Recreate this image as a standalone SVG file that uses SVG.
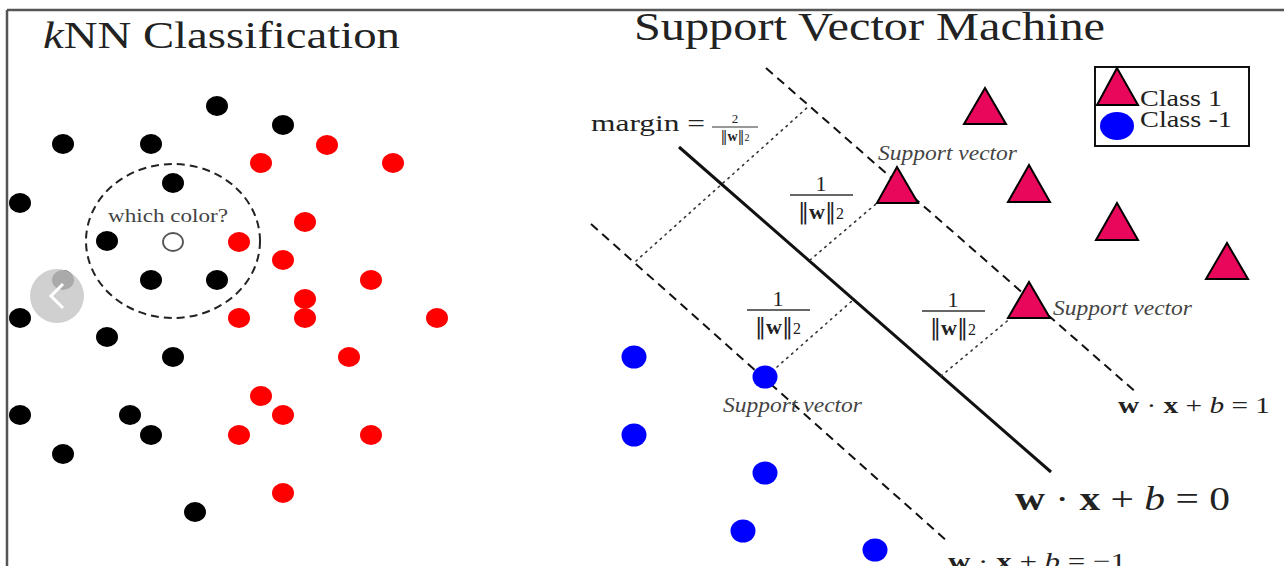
<svg xmlns="http://www.w3.org/2000/svg" width="1284" height="566" viewBox="0 0 1284 566">
<style>
 .t{font-family:"Liberation Serif","DejaVu Serif",serif;fill:#222}
 .bk{fill:#000}
 .rd{fill:#f00}
 .bl{fill:#00f}
 .tri{fill:#e8075a;stroke:#000;stroke-width:2}
 .dash{stroke:#111;stroke-width:2;stroke-dasharray:9 6;fill:none}
 .dot{stroke:#333;stroke-width:1.6;stroke-dasharray:1.5 5;stroke-linecap:round;fill:none}
 .sv{font-family:"Liberation Serif","DejaVu Serif",serif;font-style:italic;font-size:20px;fill:#444}
 .b{font-weight:bold}
 .i{font-style:italic}
 .nb{font-family:"DejaVu Serif",serif;font-weight:normal}
</style>
<rect width="1284" height="566" fill="#fff"/>
<g id="frame" stroke="#555" stroke-width="2.5" fill="none">
 <line x1="7" y1="10" x2="1284" y2="10"/>
 <line x1="7" y1="10" x2="7" y2="566"/>
</g>

<!-- kNN panel -->
<g id="knn-title"><text class="t" x="43" y="48" font-size="38" textLength="357" lengthAdjust="spacingAndGlyphs"><tspan class="i">k</tspan>NN Classification</text></g>
<g id="knn-black">
 <ellipse class="bk" cx="217" cy="106" rx="11" ry="10"/>
 <ellipse class="bk" cx="283" cy="125" rx="11" ry="10"/>
 <ellipse class="bk" cx="63" cy="144" rx="11" ry="10"/>
 <ellipse class="bk" cx="151" cy="144" rx="11" ry="10"/>
 <ellipse class="bk" cx="173" cy="183" rx="11" ry="10"/>
 <ellipse class="bk" cx="20" cy="203" rx="11" ry="10"/>
 <ellipse class="bk" cx="107" cy="241" rx="11" ry="10"/>
 <ellipse class="bk" cx="63" cy="280" rx="11" ry="10"/>
 <ellipse class="bk" cx="151" cy="280" rx="11" ry="10"/>
 <ellipse class="bk" cx="217" cy="280" rx="11" ry="10"/>
 <ellipse class="bk" cx="20" cy="318" rx="11" ry="10"/>
 <ellipse class="bk" cx="107" cy="337" rx="11" ry="10"/>
 <ellipse class="bk" cx="173" cy="357" rx="11" ry="10"/>
 <ellipse class="bk" cx="20" cy="415" rx="11" ry="10"/>
 <ellipse class="bk" cx="130" cy="415" rx="11" ry="10"/>
 <ellipse class="bk" cx="151" cy="435" rx="11" ry="10"/>
 <ellipse class="bk" cx="63" cy="454" rx="11" ry="10"/>
 <ellipse class="bk" cx="195" cy="512" rx="11" ry="10"/>
</g>
<g id="knn-red">
 <ellipse class="rd" cx="327" cy="145" rx="11" ry="10"/>
 <ellipse class="rd" cx="261" cy="163" rx="11" ry="10"/>
 <ellipse class="rd" cx="393" cy="163" rx="11" ry="10"/>
 <ellipse class="rd" cx="305" cy="222" rx="11" ry="10"/>
 <ellipse class="rd" cx="239" cy="242" rx="11" ry="10"/>
 <ellipse class="rd" cx="283" cy="260" rx="11" ry="10"/>
 <ellipse class="rd" cx="371" cy="280" rx="11" ry="10"/>
 <ellipse class="rd" cx="305" cy="299" rx="11" ry="10"/>
 <ellipse class="rd" cx="239" cy="318" rx="11" ry="10"/>
 <ellipse class="rd" cx="305" cy="318" rx="11" ry="10"/>
 <ellipse class="rd" cx="437" cy="318" rx="11" ry="10"/>
 <ellipse class="rd" cx="349" cy="357" rx="11" ry="10"/>
 <ellipse class="rd" cx="261" cy="396" rx="11" ry="10"/>
 <ellipse class="rd" cx="283" cy="415" rx="11" ry="10"/>
 <ellipse class="rd" cx="239" cy="435" rx="11" ry="10"/>
 <ellipse class="rd" cx="371" cy="435" rx="11" ry="10"/>
 <ellipse class="rd" cx="283" cy="493" rx="11" ry="10"/>
</g>
<g id="query">
 <ellipse cx="173" cy="241" rx="87" ry="77" fill="none" stroke="#222" stroke-width="2" stroke-dasharray="8 5"/>
 <ellipse cx="173" cy="242" rx="10" ry="9" fill="#fff" stroke="#555" stroke-width="1.8"/>
 <text class="t" x="108" y="222" font-size="19" textLength="120" lengthAdjust="spacingAndGlyphs" style="fill:#444">which color?</text>
</g>
<g id="nav-button">
 <circle cx="57" cy="296" r="27" fill="#c8c8c8" fill-opacity="0.85"/>
 <polyline points="63,284 51,296 63,308" fill="none" stroke="#fff" stroke-width="3"/>
</g>

<!-- SVM panel -->
<g id="svm-title"><text class="t" x="634" y="40" font-size="40" textLength="471" lengthAdjust="spacingAndGlyphs">Support Vector Machine</text></g>
<g id="connectors">
 <line x1="679" y1="147" x2="1051" y2="472" stroke="#111" stroke-width="3"/>
 <line class="dash" x1="766" y1="68" x2="1138" y2="394"/>
 <line class="dash" x1="591" y1="224" x2="948" y2="542"/>
 <line class="dot" x1="636" y1="261" x2="809" y2="106"/>
 <line class="dot" x1="810" y1="260" x2="890" y2="192"/>
 <line class="dot" x1="777" y1="367" x2="853" y2="300"/>
 <line class="dot" x1="941" y1="376" x2="1012" y2="317"/>
</g>
<g id="class1">
 <polygon class="tri" points="985,88 964,124 1006,124"/>
 <polygon class="tri" points="1029,165 1008,202 1050,202"/>
 <polygon class="tri" points="1117,203 1096,240 1138,240"/>
 <polygon class="tri" points="1227,243 1206,279 1248,279"/>
</g>
<g id="sv-tri-1">
 <polygon class="tri" points="897,167 877,203 918,203"/>
 <text class="sv" x="878" y="160" textLength="139" lengthAdjust="spacingAndGlyphs">Support vector</text>
</g>
<g id="sv-tri-2">
 <polygon class="tri" points="1029,282 1008,318 1050,318"/>
 <text class="sv" x="1053" y="315" textLength="139" lengthAdjust="spacingAndGlyphs">Support vector</text>
</g>
<g id="class-1">
 <ellipse class="bl" cx="634" cy="357" rx="12.5" ry="11.5"/>
 <ellipse class="bl" cx="634" cy="435" rx="12.5" ry="11.5"/>
 <ellipse class="bl" cx="765" cy="473" rx="12.5" ry="11.5"/>
 <ellipse class="bl" cx="743" cy="531" rx="12.5" ry="11.5"/>
 <ellipse class="bl" cx="875" cy="550" rx="12.5" ry="11.5"/>
</g>
<g id="sv-circle">
 <ellipse class="bl" cx="765" cy="377" rx="12.5" ry="11.5"/>
 <text class="sv" x="723" y="412" textLength="139" lengthAdjust="spacingAndGlyphs">Support vector</text>
</g>
<g id="legend">
 <rect x="1095" y="67" width="154" height="79" fill="none" stroke="#111" stroke-width="2"/>
 <polygon class="tri" points="1117,68 1097,105 1138,105"/>
 <ellipse class="bl" cx="1117" cy="126" rx="17" ry="14"/>
 <text class="t" x="1140" y="106" font-size="23" textLength="82" lengthAdjust="spacingAndGlyphs">Class 1</text>
 <text class="t" x="1140" y="127" font-size="23" textLength="92" lengthAdjust="spacingAndGlyphs">Class -1</text>
</g>
<g id="margin-label">
 <text class="t" x="591" y="131" font-size="23" textLength="114" lengthAdjust="spacingAndGlyphs">margin =</text>
 <text class="t" x="735" y="123" font-size="13" text-anchor="middle">2</text>
 <line x1="712" y1="127" x2="758" y2="127" stroke="#333" stroke-width="1"/>
 <text class="t" x="735" y="141" font-size="14" text-anchor="middle"><tspan class="nb">‖</tspan><tspan class="b">w</tspan><tspan class="nb">‖</tspan><tspan font-size="10">2</tspan></text>
</g>
<g id="frac-a">
 <text class="t" x="821" y="191" font-size="22" text-anchor="middle">1</text>
 <line x1="790" y1="195" x2="853" y2="195" stroke="#333" stroke-width="1.3"/>
 <text class="t" x="821" y="219" font-size="22" text-anchor="middle"><tspan class="nb">‖</tspan><tspan class="b">w</tspan><tspan class="nb">‖</tspan><tspan font-size="16">2</tspan></text>
</g>
<g id="frac-b">
 <text class="t" x="778" y="306" font-size="22" text-anchor="middle">1</text>
 <line x1="747" y1="310" x2="810" y2="310" stroke="#333" stroke-width="1.3"/>
 <text class="t" x="778" y="334" font-size="22" text-anchor="middle"><tspan class="nb">‖</tspan><tspan class="b">w</tspan><tspan class="nb">‖</tspan><tspan font-size="16">2</tspan></text>
</g>
<g id="frac-c">
 <text class="t" x="953" y="307" font-size="22" text-anchor="middle">1</text>
 <line x1="922" y1="311" x2="985" y2="311" stroke="#333" stroke-width="1.3"/>
 <text class="t" x="953" y="335" font-size="22" text-anchor="middle"><tspan class="nb">‖</tspan><tspan class="b">w</tspan><tspan class="nb">‖</tspan><tspan font-size="16">2</tspan></text>
</g>
<g id="eq-plus1"><text class="t" x="1118" y="413" font-size="24" textLength="152" lengthAdjust="spacingAndGlyphs"><tspan class="b">w</tspan> · <tspan class="b">x</tspan> + <tspan class="i">b</tspan> = 1</text></g>
<g id="eq-zero"><text class="t" x="1015" y="510" font-size="34" textLength="215" lengthAdjust="spacingAndGlyphs"><tspan class="b">w</tspan> · <tspan class="b">x</tspan> + <tspan class="i">b</tspan> = 0</text></g>
<g id="eq-minus1"><text class="t" x="948" y="569" font-size="24" textLength="178" lengthAdjust="spacingAndGlyphs"><tspan class="b">w</tspan> · <tspan class="b">x</tspan> + <tspan class="i">b</tspan> = −1</text></g>
</svg>
